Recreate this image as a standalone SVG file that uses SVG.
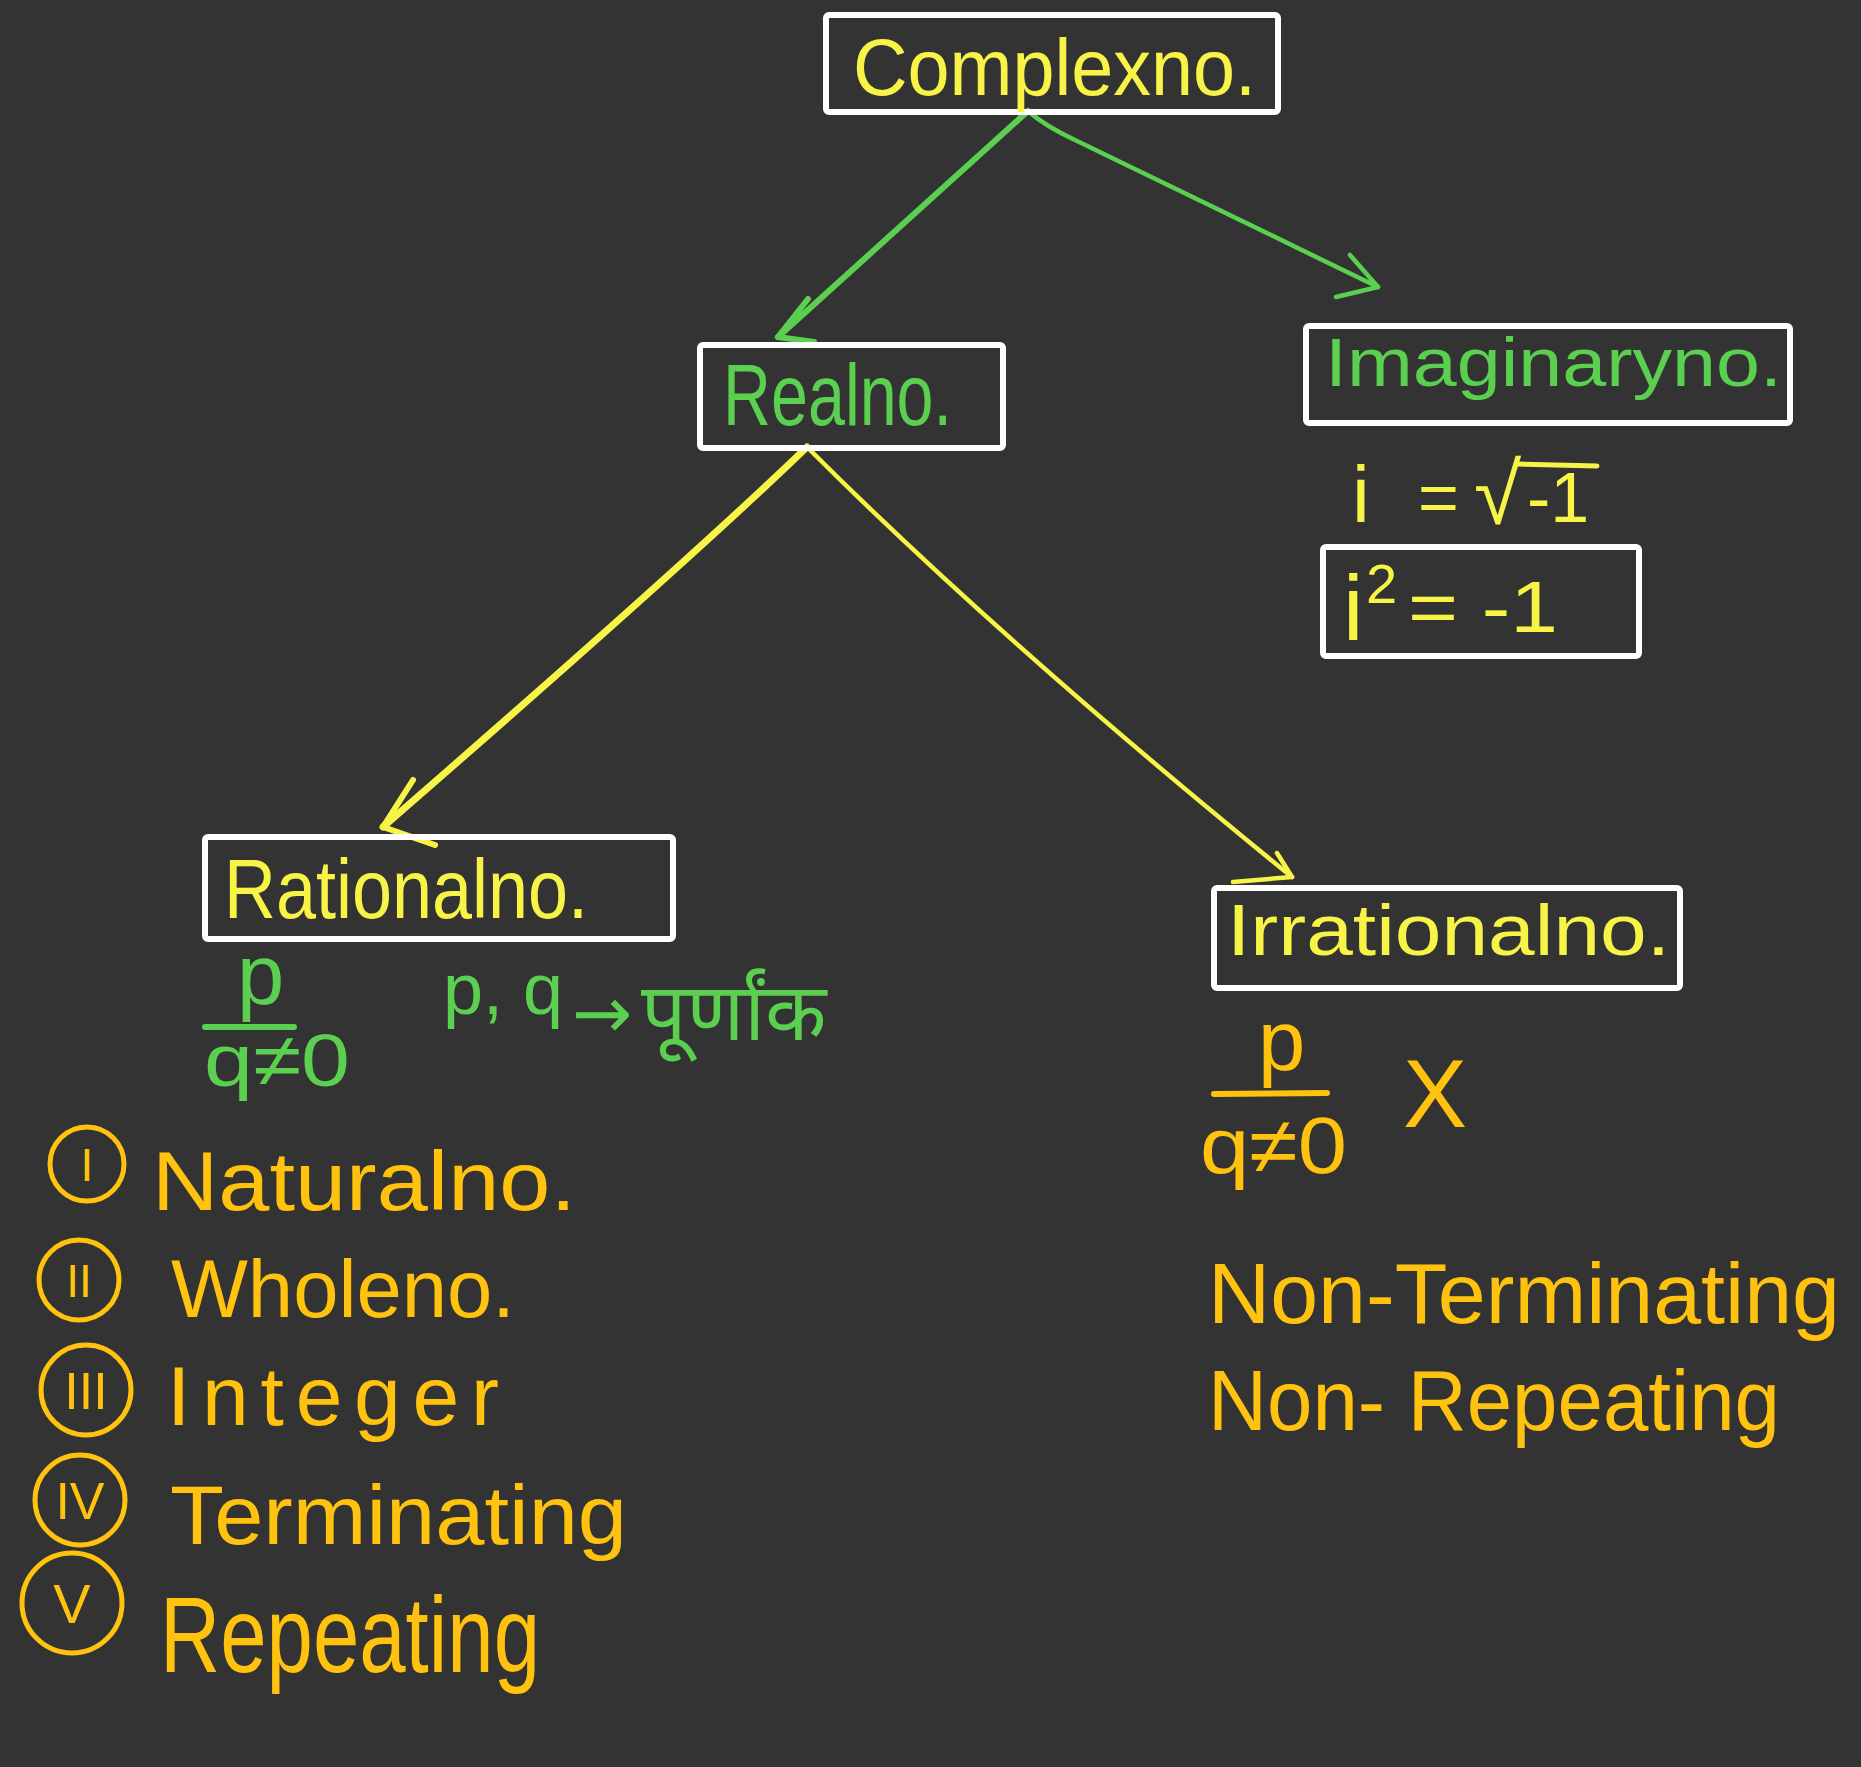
<svg xmlns="http://www.w3.org/2000/svg" width="1861" height="1767" viewBox="0 0 1861 1767">
<defs>
<style>
.box{fill:none;stroke:#ffffff;stroke-width:6}
text{font-family:"Liberation Sans","Noto Sans Devanagari","Lohit Devanagari","Noto Sans",sans-serif}
.y{fill:#f8f447}
.g{fill:#5bcf50}
.o{fill:#ffc20e}
.cy{fill:none;stroke:#f8f447;stroke-linecap:round;stroke-linejoin:round}
.cg{fill:none;stroke:#5bcf50;stroke-linecap:round;stroke-linejoin:round}
.co{fill:none;stroke:#ffc20e;stroke-width:5;stroke-linecap:round}
.rn{text-anchor:middle}
</style>
</defs>
<rect width="1861" height="1767" fill="#333333"/>

<g id="connectors">
<path class="cg" stroke-width="6" d="M1028,111 L778,337"/>
<path class="cg" stroke-width="6" d="M808,299 L778,337 L814,342"/>
<path class="cg" stroke-width="4.5" d="M1028,111 Q1045,126 1075,140 L1378,287"/>
<path class="cg" stroke-width="4.5" d="M1350,255 L1378,287 L1336,297"/>
<path class="cy" stroke-width="7" d="M807,447 Q690,560 383,827"/>
<path class="cy" stroke-width="6" d="M413,780 L383,827 L435,845"/>
<path class="cy" stroke-width="4.5" d="M807,447 Q1000,640 1292,877"/>
<path class="cy" stroke-width="4.5" d="M1277,853 L1292,877 L1233,882"/>
</g>

<g id="complex">
<rect class="box" x="826" y="15" width="452" height="97" rx="3"/>
<text class="y" x="853" y="95" font-size="80" textLength="403" lengthAdjust="spacingAndGlyphs">Complexno.</text>
</g>

<g id="real">
<rect class="box" x="700" y="345" width="303" height="103" rx="3"/>
<text class="g" x="723" y="425" font-size="88" textLength="229" lengthAdjust="spacingAndGlyphs">Realno.</text>
</g>

<g id="imaginary">
<rect class="box" x="1306" y="326" width="484" height="97" rx="3"/>
<text class="g" x="1325" y="386" font-size="68" textLength="457" lengthAdjust="spacingAndGlyphs">Imaginaryno.</text>
</g>

<g id="imaginary-notes">
<text class="y" y="522"><tspan x="1352" font-size="80">i</tspan><tspan x="1418" font-size="70">=</tspan><tspan x="1474" y="524" font-size="86">√</tspan><tspan x="1527" y="522" font-size="70">-1</tspan></text>
<line x1="1516" y1="464" x2="1597" y2="466" stroke="#f8f447" stroke-width="5" stroke-linecap="round"/>
<rect class="box" x="1323" y="547" width="316" height="109" rx="3"/>
<text class="y" x="1343" y="640" font-size="92">i</text>
<text class="y" x="1366" y="603" font-size="56">2</text>
<text class="y" x="1408" y="632" font-size="72" textLength="150" lengthAdjust="spacingAndGlyphs">= -1</text>
</g>

<g id="rational">
<rect class="box" x="205" y="837" width="468" height="102" rx="3"/>
<text class="y" x="224" y="918" font-size="84" textLength="364" lengthAdjust="spacingAndGlyphs">Rationalno.</text>
</g>

<g id="rational-notes">
<text class="g" x="237" y="1004" font-size="85">p</text>
<line x1="205" y1="1027" x2="294" y2="1027" stroke="#5bcf50" stroke-width="6" stroke-linecap="round"/>
<text class="g" x="204" y="1086" font-size="75" textLength="146" lengthAdjust="spacingAndGlyphs">q≠0</text>
<text class="g" y="1014"><tspan x="443" font-size="72">p, q</tspan><tspan x="572" y="1038" font-size="72" font-family="DejaVu Sans">→</tspan><tspan x="641" y="1040" font-size="80">पूर्णांक</tspan></text>
</g>

<g id="rational-list">
<circle class="co" cx="87" cy="1164" r="37"/>
<text class="o rn" x="87" y="1181" font-size="46">I</text>
<circle class="co" cx="79" cy="1280" r="40"/>
<text class="o rn" x="79" y="1297" font-size="46">II</text>
<circle class="co" cx="86" cy="1390" r="45"/>
<text class="o rn" x="86" y="1409" font-size="52">III</text>
<circle class="co" cx="80" cy="1500" r="45"/>
<text class="o rn" x="80" y="1519" font-size="52">IV</text>
<circle class="co" cx="72" cy="1603" r="50"/>
<text class="o rn" x="72" y="1623" font-size="56">V</text>
<text class="o" x="152" y="1210" font-size="84" textLength="424" lengthAdjust="spacingAndGlyphs">Naturalno.</text>
<text class="o" x="171" y="1317" font-size="82" textLength="344" lengthAdjust="spacingAndGlyphs">Wholeno.</text>
<text class="o" x="167" y="1425" font-size="84" textLength="332" lengthAdjust="spacing">Integer</text>
<text class="o" x="170" y="1544" font-size="84" textLength="457" lengthAdjust="spacingAndGlyphs">Terminating</text>
<text class="o" x="160" y="1672" font-size="108" textLength="380" lengthAdjust="spacingAndGlyphs">Repeating</text>
</g>

<g id="irrational">
<rect class="box" x="1214" y="888" width="466" height="100" rx="3"/>
<text class="y" x="1227" y="955" font-size="72" textLength="443" lengthAdjust="spacingAndGlyphs">Irrationalno.</text>
</g>

<g id="irrational-notes">
<text class="o" x="1258" y="1070" font-size="85">p</text>
<line x1="1214" y1="1094" x2="1327" y2="1093" stroke="#ffc20e" stroke-width="6" stroke-linecap="round"/>
<text class="o" x="1200" y="1173" font-size="80" textLength="147" lengthAdjust="spacingAndGlyphs">q≠0</text>
<text class="o" x="1403" y="1127" font-size="96">X</text>
<text class="o" x="1208" y="1323" font-size="86" textLength="632" lengthAdjust="spacingAndGlyphs">Non-Terminating</text>
<text class="o" x="1208" y="1430" font-size="86" textLength="572" lengthAdjust="spacingAndGlyphs">Non- Repeating</text>
</g>
</svg>
